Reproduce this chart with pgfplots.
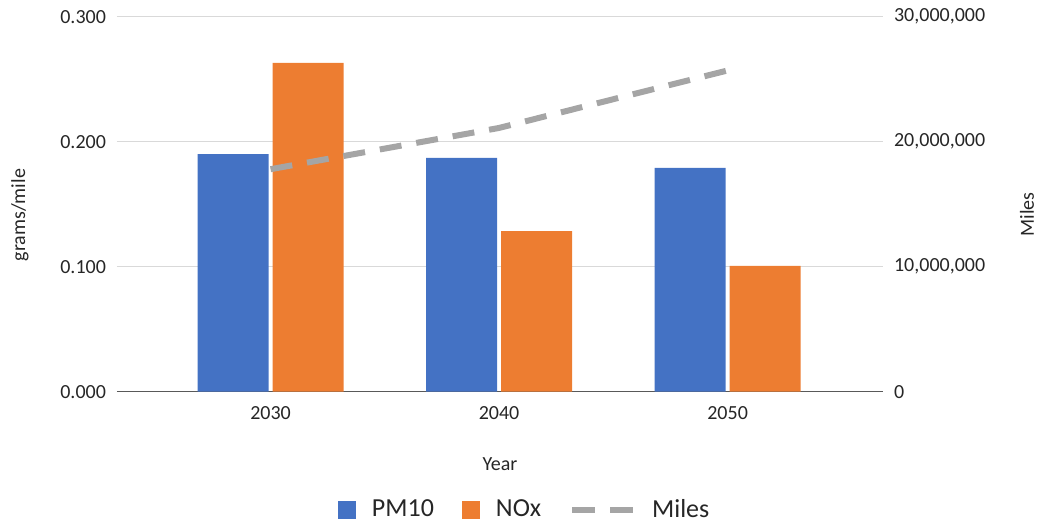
\documentclass[border=0pt]{standalone}
\usepackage{fontspec}
\setmainfont{Carlito}
\usepackage{pgfplots}
\pgfplotsset{compat=1.18}
\definecolor{pmblue}{HTML}{4472C4}
\definecolor{noxorange}{HTML}{ED7D31}
\definecolor{milesgray}{HTML}{A5A5A5}
\definecolor{gridgray}{HTML}{D9D9D9}
\definecolor{txt}{HTML}{262626}
\begin{document}
\begin{tikzpicture}
\path[use as bounding box] (0,0) rectangle (519.5pt,262pt);
\begin{axis}[
  at={(58.5pt,66.15pt)}, anchor=south west,
  scale only axis, width=383pt, height=187.5pt,
  xmin=-0.672, xmax=2.68,
  ymin=0, ymax=0.3,
  ybar=2pt, bar width=35.5pt,
  xtick={0,1,2}, xticklabels={2030,2040,2050},
  ytick={0.1,0.2,0.3},
  extra y ticks={0},
  extra y tick style={grid style={color=black!65, line width=0.8pt}},
  ymajorgrids, grid style={color=gridgray, line width=0.8pt},
  major tick length=0pt,
  axis line style={draw=none},
  tick label style={font=\fontsize{10}{12}\selectfont, text=txt},
  /pgf/number format/assume math mode=true,
  yticklabel style={/pgf/number format/fixed, /pgf/number format/fixed zerofill, /pgf/number format/precision=3, xshift=-2pt},
  xticklabel style={yshift=-4pt},
  ylabel={grams/mile},
  ylabel style={at={(axis description cs:-0.1266,0.471)}, anchor=center, font=\fontsize{10}{12}\selectfont, text=txt},
  xlabel={Year},
  xlabel style={at={(axis description cs:0.5,-0.192)}, anchor=center, font=\fontsize{10}{12}\selectfont, text=txt},
  legend columns=-1,
  legend style={at={(0.5335,-0.3155)}, anchor=center, draw=none, fill=none,
    font=\fontsize{13}{15}\selectfont, text=txt,
    /tikz/every odd column/.append style={column sep=6pt},
    /tikz/every even column/.append style={column sep=12pt}},
]
\addplot[fill=pmblue, draw=none,
  legend image code/.code={\fill[pmblue] (0pt,-4.5pt) rectangle (9pt,4.5pt);}]
  coordinates {(0,0.190) (1,0.187) (2,0.179)};
\addlegendentry{PM10}
\addplot[fill=noxorange, draw=none,
  legend image code/.code={\fill[noxorange] (0pt,-4.5pt) rectangle (9pt,4.5pt);}]
  coordinates {(0,0.263) (1,0.1285) (2,0.1006)};
\addlegendentry{NOx}
\addlegendimage{legend image code/.code={\draw[milesgray, line width=3pt, dash pattern=on 11.5pt off 7.5pt] (0pt,0pt) -- (30.5pt,0pt);}}
\addlegendentry{Miles}
\end{axis}
\begin{axis}[
  at={(58.5pt,66.15pt)}, anchor=south west,
  scale only axis, width=383pt, height=187.5pt,
  xmin=-0.672, xmax=2.68,
  ymin=0, ymax=30000000,
  scaled y ticks=false,
  axis x line=none,
  axis y line*=right,
  axis line style={draw=none},
  major tick length=0pt,
  ytick={0,10000000,20000000,30000000},
  yticklabels={0,{10,000,000},{20,000,000},{30,000,000}},
  yticklabel style={font=\fontsize{10}{12}\selectfont, text=txt, xshift=2pt},
  ylabel={Miles},
  ylabel style={at={(axis description cs:1.188,0.473)}, anchor=center, rotate=0, font=\fontsize{10}{12}\selectfont, text=txt},
]
\addplot[milesgray, line width=3pt, dash pattern=on 11pt off 7.5pt, line join=round]
  coordinates {(0,17800000) (1,21100000) (2,25700000)};
\end{axis}
\end{tikzpicture}
\end{document}
